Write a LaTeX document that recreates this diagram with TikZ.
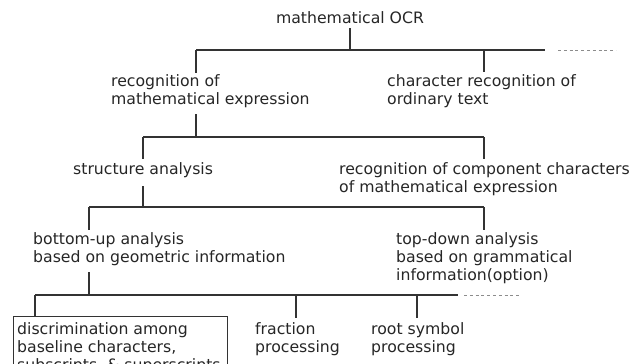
\documentclass[tikz,border=0pt]{standalone}
\usepackage{fontspec}
\setmainfont{DejaVu Sans}
\begin{document}
\begin{tikzpicture}[x=1pt,y=-1pt,
  txt/.style={anchor=base west, inner sep=0pt, align=left, font=\fontsize{15.7}{18}\selectfont, text=black!85},
  conn/.style={draw=black!80, line width=1.1pt},
  more/.style={draw=black!45, line width=1pt, dash pattern=on 3pt off 2.8pt}]
\useasboundingbox (0,0) rectangle (640,364);

% texts (multi-line nodes: base = baseline of the last line)
\node[txt, anchor=base] (ocr) at (350,23.5) {mathematical OCR};
\node[txt] (rme) at (111,104) {recognition of\\mathematical expression};
\node[txt] (crt) at (387,104) {character recognition of\\ordinary text};
\node[txt] (sa)  at (73,174) {structure analysis};
\node[txt] (rcc) at (339,192) {recognition of component characters\\of mathematical expression};
\node[txt] (bu)  at (33,262) {bottom-up analysis\\based on geometric information};
\node[txt] (td)  at (396,280) {top-down analysis\\based on grammatical\\information(option)};
\node[txt] (dis) at (17,370) {discrimination among\\baseline characters,\\subscripts, \& superscripts};
\node[txt] (fr)  at (255,352) {fraction\\processing};
\node[txt] (rs)  at (371,352) {root symbol\\processing};

% junction coordinates
\coordinate (ocrB) at (350,28);  \coordinate (ocrJ) at (350,50);
\coordinate (b1L) at (196,50);   \coordinate (b1R) at (545,50);
\coordinate (b1d1) at (558,50);  \coordinate (b1d2) at (616,50);
\coordinate (rmeT) at (196,73);  \coordinate (b1J2) at (484,50); \coordinate (crtT) at (484,72);

\coordinate (rmeB) at (196,114); \coordinate (b2J) at (196,137);
\coordinate (b2L) at (143,137);  \coordinate (b2R) at (484,137);
\coordinate (saT) at (143,159);  \coordinate (rccT) at (484,159);

\coordinate (saB) at (143,186);  \coordinate (b3J) at (143,207);
\coordinate (b3L) at (89,207);   \coordinate (b3R) at (484,207);
\coordinate (buT) at (89,230);   \coordinate (tdT) at (484,230);

\coordinate (buB) at (89,272);   \coordinate (b4J) at (89,295);
\coordinate (b4L) at (35,295);   \coordinate (b4R) at (458,295);
\coordinate (b4d1) at (464,295); \coordinate (b4d2) at (521,295);
\coordinate (b4J2) at (296,295); \coordinate (frT) at (296,318);
\coordinate (b4J3) at (417,295); \coordinate (rsT) at (417,318);
\coordinate (disT) at (35,316);

% box around the first leaf
\draw[conn, line width=0.9pt] (13,380) -- (13,316) -- (227,316) -- (227,380);

% connectors
\draw[conn] (ocrB) -- (ocrJ);
\draw[conn] (b1L) -- (b1R);
\draw[more] (b1d1) -- (b1d2);
\draw[conn] (b1L) -- (rmeT);
\draw[conn] (b1J2) -- (crtT);

\draw[conn] (rmeB) -- (b2J);
\draw[conn] (b2L) -- (b2R);
\draw[conn] (b2L) -- (saT);
\draw[conn] (b2R) -- (rccT);

\draw[conn] (saB) -- (b3J);
\draw[conn] (b3L) -- (b3R);
\draw[conn] (b3L) -- (buT);
\draw[conn] (b3R) -- (tdT);

\draw[conn] (buB) -- (b4J);
\draw[conn] (b4L) -- (b4R);
\draw[more] (b4d1) -- (b4d2);
\draw[conn] (b4L) -- (disT);
\draw[conn] (b4J2) -- (frT);
\draw[conn] (b4J3) -- (rsT);
\end{tikzpicture}
\end{document}
